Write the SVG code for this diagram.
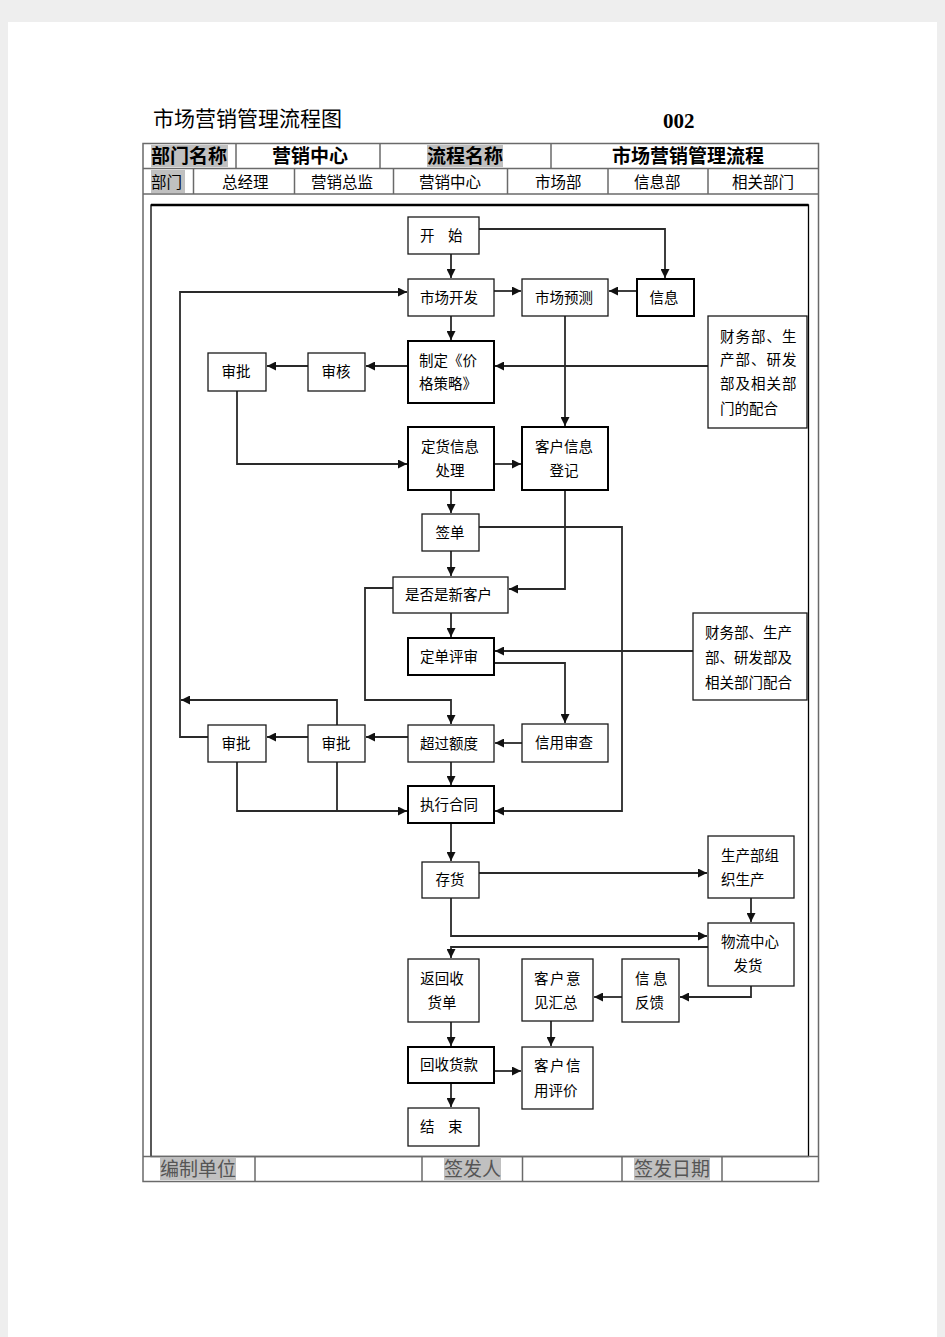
<svg xmlns="http://www.w3.org/2000/svg" width="945" height="1337" viewBox="0 0 945 1337">
<style>
.box{fill:#fff;stroke:#1a1a1a;stroke-width:1.3}
.thick{fill:#fff;stroke:#000;stroke-width:2}
.t{font-family:"Noto Sans CJK SC","Noto Sans",sans-serif;font-size:14.5px;fill:#000}
.m{text-anchor:middle}
.c{fill:none;stroke:#2a2a2a;stroke-width:1.8}
.tbl{fill:none;stroke:#6a6a6a;stroke-width:1.5}
.h1{font-family:"Liberation Serif","Noto Sans CJK SC",serif;font-size:19px;font-weight:bold;fill:#000}
.h2{font-family:"Noto Sans CJK SC",sans-serif;font-size:15.5px;fill:#000}
.ft{font-family:"Liberation Serif","Noto Sans CJK SC",serif;font-size:19px;fill:#555}
.gray{fill:#c0c0c0}
</style>
<defs>
<marker id="a" markerUnits="userSpaceOnUse" markerWidth="9" markerHeight="9" refX="9" refY="4.5" orient="auto">
<path d="M0,0 L9,4.5 L0,9 z" fill="#111"/>
</marker>
</defs>
<rect x="0" y="0" width="945" height="1337" fill="#eeeeee"/>
<rect x="8" y="22" width="929" height="1315" fill="#fff"/>

<g id="title">
<text x="153" y="126" font-family="Noto Sans CJK SC,sans-serif" font-size="21" fill="#000">市场营销管理流程图</text>
<text x="663" y="128" font-family="Liberation Serif,serif" font-size="21" font-weight="bold" fill="#000">002</text>
</g>

<g id="header">
<rect class="gray" x="151" y="145" width="77" height="22"/>
<rect class="gray" x="427" y="145" width="76" height="22"/>
<rect class="gray" x="151" y="170" width="34" height="23"/>
<rect class="tbl" x="143" y="143.5" width="675.5" height="1038"/>
<line class="tbl" x1="143" y1="168.5" x2="818.5" y2="168.5"/>
<line class="tbl" x1="143" y1="194" x2="818.5" y2="194"/>
<line class="tbl" x1="236" y1="143.5" x2="236" y2="168.5"/>
<line class="tbl" x1="380" y1="143.5" x2="380" y2="168.5"/>
<line class="tbl" x1="551" y1="143.5" x2="551" y2="168.5"/>
<line class="tbl" x1="193.5" y1="168.5" x2="193.5" y2="194"/>
<line class="tbl" x1="294.5" y1="168.5" x2="294.5" y2="194"/>
<line class="tbl" x1="393.5" y1="168.5" x2="393.5" y2="194"/>
<line class="tbl" x1="507.5" y1="168.5" x2="507.5" y2="194"/>
<line class="tbl" x1="608" y1="168.5" x2="608" y2="194"/>
<line class="tbl" x1="708" y1="168.5" x2="708" y2="194"/>
<text class="h1" x="151" y="163">部门名称</text>
<text class="h1" x="272" y="163">营销中心</text>
<text class="h1" x="427" y="163">流程名称</text>
<text class="h1" x="612" y="163">市场营销管理流程</text>
<text class="h2" x="151" y="188">部门</text>
<text class="h2" x="222" y="188">总经理</text>
<text class="h2" x="311" y="188">营销总监</text>
<text class="h2" x="419" y="188">营销中心</text>
<text class="h2" x="535" y="188">市场部</text>
<text class="h2" x="634" y="188">信息部</text>
<text class="h2" x="732" y="188">相关部门</text>
</g>

<g id="frame">
<rect x="151" y="205" width="657.5" height="951.5" fill="none" stroke="#000" stroke-width="1.3"/>
<line x1="151" y1="205" x2="808.5" y2="205" stroke="#000" stroke-width="2.5"/>
</g>

<g id="footer">
<rect class="gray" x="160" y="1158" width="76" height="22"/>
<rect class="gray" x="444" y="1158" width="57" height="22"/>
<rect class="gray" x="634" y="1158" width="76" height="22"/>
<line class="tbl" x1="143" y1="1156.5" x2="818.5" y2="1156.5"/>
<line class="tbl" x1="255" y1="1156.5" x2="255" y2="1181.5"/>
<line class="tbl" x1="422" y1="1156.5" x2="422" y2="1181.5"/>
<line class="tbl" x1="522.5" y1="1156.5" x2="522.5" y2="1181.5"/>
<line class="tbl" x1="622" y1="1156.5" x2="622" y2="1181.5"/>
<line class="tbl" x1="722" y1="1156.5" x2="722" y2="1181.5"/>
<text class="ft" x="160" y="1176">编制单位</text>
<text class="ft" x="444" y="1176">签发人</text>
<text class="ft" x="634" y="1176">签发日期</text>
</g>

<g id="connectors">
<path class="c" d="M451,254 V278" marker-end="url(#a)"/>
<path class="c" d="M479,229 H665 V278" marker-end="url(#a)"/>
<path class="c" d="M494,291 H521" marker-end="url(#a)"/>
<path class="c" d="M637,291 H609" marker-end="url(#a)"/>
<path class="c" d="M451,316 V340" marker-end="url(#a)"/>
<path class="c" d="M408,366 H366" marker-end="url(#a)"/>
<path class="c" d="M308,366 H267" marker-end="url(#a)"/>
<path class="c" d="M708,366 H495" marker-end="url(#a)"/>
<path class="c" d="M565,316 V426" marker-end="url(#a)"/>
<path class="c" d="M237,391 V464 H407" marker-end="url(#a)"/>
<path class="c" d="M494,464 H521" marker-end="url(#a)"/>
<path class="c" d="M451,490 V513" marker-end="url(#a)"/>
<path class="c" d="M451,551 V576" marker-end="url(#a)"/>
<path class="c" d="M565,490 V589 H509" marker-end="url(#a)"/>
<path class="c" d="M479,527 H622 V811 H495" marker-end="url(#a)"/>
<path class="c" d="M393,588 H365 V700 H451 V724" marker-end="url(#a)"/>
<path class="c" d="M451,613 V637" marker-end="url(#a)"/>
<path class="c" d="M693,651 H495" marker-end="url(#a)"/>
<path class="c" d="M494,663 H565 V723" marker-end="url(#a)"/>
<path class="c" d="M522,743 H495" marker-end="url(#a)"/>
<path class="c" d="M408,737 H366" marker-end="url(#a)"/>
<path class="c" d="M308,737 H267" marker-end="url(#a)"/>
<path class="c" d="M337,725 V700 H181" marker-end="url(#a)"/>
<path class="c" d="M208,737 H180 V292 H407" marker-end="url(#a)"/>
<path class="c" d="M451,762 V785" marker-end="url(#a)"/>
<path class="c" d="M237,762 V811 H407" marker-end="url(#a)"/>
<path class="c" d="M337,762 V811"/>
<path class="c" d="M451,823 V861" marker-end="url(#a)"/>
<path class="c" d="M479,873 H707" marker-end="url(#a)"/>
<path class="c" d="M751,898 V922" marker-end="url(#a)"/>
<path class="c" d="M451,898 V936 H707" marker-end="url(#a)"/>
<path class="c" d="M708,947 H451 V958" marker-end="url(#a)"/>
<path class="c" d="M751,986 V997 H680" marker-end="url(#a)"/>
<path class="c" d="M622,997 H594" marker-end="url(#a)"/>
<path class="c" d="M451,1022 V1046" marker-end="url(#a)"/>
<path class="c" d="M551,1021 V1046" marker-end="url(#a)"/>
<path class="c" d="M494,1071 H521" marker-end="url(#a)"/>
<path class="c" d="M451,1083 V1107" marker-end="url(#a)"/>
</g>

<g id="n-start"><rect class="box" x="408" y="217" width="71" height="37"/><text class="t" x="420" y="241">开 <tspan x="448">始</tspan></text></g>
<g id="n-market-dev"><rect class="box" x="408" y="279" width="86" height="37"/><text class="t m" x="449" y="303">市场开发</text></g>
<g id="n-forecast"><rect class="box" x="522" y="279" width="86" height="37"/><text class="t m" x="564" y="303">市场预测</text></g>
<g id="n-info"><rect class="thick" x="637" y="279" width="57" height="37"/><text class="t m" x="664" y="303">信息</text></g>
<g id="n-pricing"><rect class="thick" x="408" y="341" width="86" height="62"/><text class="t" x="419" y="366">制定《价</text><text class="t" x="419" y="389">格策略》</text></g>
<g id="n-review1"><rect class="box" x="308" y="353" width="57" height="38"/><text class="t m" x="336" y="377">审核</text></g>
<g id="n-approve1"><rect class="box" x="208" y="353" width="58" height="38" stroke-width="1.8"/><text class="t m" x="236" y="377">审批</text></g>
<g id="n-depts1"><rect class="box" x="708" y="316" width="99" height="112"/>
<text class="t" x="720" y="342" letter-spacing="1">财务部、生</text>
<text class="t" x="720" y="365" letter-spacing="1">产部、研发</text>
<text class="t" x="720" y="389" letter-spacing="1">部及相关部</text>
<text class="t" x="720" y="414">门的配合</text></g>
<g id="n-order-info"><rect class="thick" x="408" y="427" width="86" height="63"/><text class="t m" x="450" y="452">定货信息</text><text class="t m" x="450" y="476">处理</text></g>
<g id="n-cust-reg"><rect class="thick" x="522" y="427" width="86" height="63"/><text class="t m" x="564" y="452">客户信息</text><text class="t m" x="564" y="476">登记</text></g>
<g id="n-sign"><rect class="box" x="422" y="514" width="57" height="37"/><text class="t m" x="450" y="538">签单</text></g>
<g id="n-newcust"><rect class="box" x="393" y="577" width="115" height="36"/><text class="t" x="405" y="600">是否是新客户</text></g>
<g id="n-order-review"><rect class="thick" x="408" y="638" width="86" height="37"/><text class="t m" x="449" y="662">定单评审</text></g>
<g id="n-depts2"><rect class="box" x="693" y="613" width="114" height="87"/>
<text class="t" x="705" y="638">财务部、生产</text>
<text class="t" x="705" y="663">部、研发部及</text>
<text class="t" x="705" y="688">相关部门配合</text></g>
<g id="n-approve2"><rect class="box" x="208" y="725" width="58" height="37"/><text class="t m" x="236" y="749">审批</text></g>
<g id="n-approve3"><rect class="box" x="308" y="725" width="57" height="37"/><text class="t m" x="336" y="749">审批</text></g>
<g id="n-overlimit"><rect class="box" x="408" y="725" width="86" height="37"/><text class="t m" x="449" y="749">超过额度</text></g>
<g id="n-credit"><rect class="box" x="522" y="724" width="86" height="38" stroke-width="1.8"/><text class="t m" x="564" y="748">信用审查</text></g>
<g id="n-exec"><rect class="thick" x="408" y="786" width="86" height="37"/><text class="t m" x="449" y="810">执行合同</text></g>
<g id="n-stock"><rect class="box" x="422" y="862" width="57" height="36"/><text class="t m" x="450" y="885">存货</text></g>
<g id="n-production"><rect class="box" x="708" y="836" width="86" height="62"/><text class="t" x="721" y="861">生产部组</text><text class="t" x="721" y="885">织生产</text></g>
<g id="n-logistics"><rect class="box" x="708" y="923" width="86" height="63"/><text class="t m" x="750" y="947">物流中心</text><text class="t m" x="748" y="971">发货</text></g>
<g id="n-return"><rect class="box" x="408" y="959" width="71" height="63"/><text class="t m" x="442" y="984">返回收</text><text class="t m" x="442" y="1008">货单</text></g>
<g id="n-opinion"><rect class="box" x="522" y="959" width="71" height="62"/><text class="t" x="534" y="984" letter-spacing="1.5">客户意</text><text class="t" x="534" y="1008">见汇总</text></g>
<g id="n-feedback"><rect class="box" x="622" y="959" width="57" height="63"/><text class="t" x="635" y="984">信 <tspan x="653">息</tspan></text><text class="t" x="635" y="1008">反馈</text></g>
<g id="n-collect"><rect class="thick" x="408" y="1047" width="86" height="36"/><text class="t m" x="449" y="1070">回收货款</text></g>
<g id="n-credit-eval"><rect class="box" x="522" y="1047" width="71" height="62"/><text class="t" x="534" y="1071" letter-spacing="1.5">客户信</text><text class="t" x="534" y="1096">用评价</text></g>
<g id="n-end"><rect class="box" x="408" y="1108" width="71" height="38"/><text class="t" x="420" y="1132">结 <tspan x="448">束</tspan></text></g>
</svg>
